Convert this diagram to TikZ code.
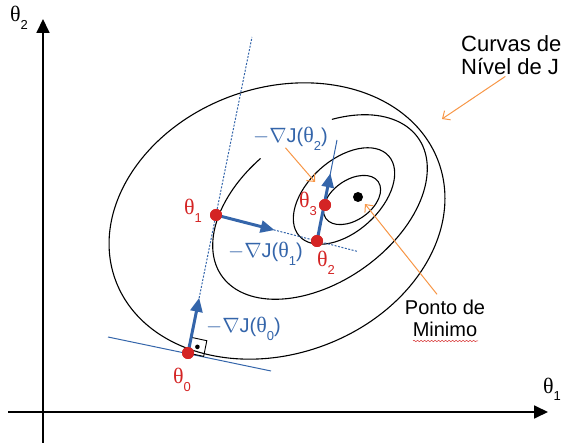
\documentclass[tikz,border=0pt]{standalone}
\usepackage{fontspec}
\setmainfont{Liberation Sans}
\newfontfamily\grkfont{Liberation Serif}
\usepackage{tikz}
\usetikzlibrary{arrows.meta,calc,decorations.pathmorphing}
\definecolor{gdblue}{HTML}{3465AA}
\definecolor{ptred}{HTML}{D42424}
\definecolor{lblorange}{HTML}{F79646}
\newcommand{\tht}[1]{{\grkfont\fontsize{22}{23}\selectfont θ}\raisebox{-0.38em}{\fontsize{13}{13}\selectfont #1}}
\newcommand{\grd}[1]{$-\nabla$J(\tht{#1})}

\begin{document}
\begin{tikzpicture}[x=1pt, y=-1pt, >=Stealth,
  lvl/.style={line width=1.1pt, black},
  axis/.style={line width=1.8pt, -{Triangle[length=14pt,width=13pt]}},
  grad/.style={gdblue, line width=3pt, -{Triangle[length=14pt,width=12pt]}},
  traj/.style={gdblue, line width=1pt, dash pattern=on 2pt off 1.5pt},
  lead/.style={lblorange, line width=1pt, -{Straight Barb[length=6pt,width=11pt]}},
  ptdot/.style={circle, fill=ptred, inner sep=0pt, minimum size=12pt},
  ptlbl/.style={text=ptred, inner sep=0pt, anchor=base west, font=\fontsize{20}{23}\selectfont},
  gdlbl/.style={text=gdblue, inner sep=0pt, anchor=base west, font=\fontsize{20}{23}\selectfont},
  txt/.style={inner sep=0pt, font=\fontsize{20}{22}\selectfont}]
\useasboundingbox (0,0) rectangle (562,443);
% axes
\coordinate (ybot) at (43,443);
\coordinate (ytop) at (43,19);
\coordinate (xleft) at (8,412);
\coordinate (xright) at (548,412);
\draw[axis] (ybot) -- (ytop);
\draw[axis] (xleft) -- (xright);
\node[txt, anchor=base west] (ax2) at (10,22) {\tht{2}};
\node[txt, anchor=base west] (ax1) at (543,393) {\tht{1}};
% level curves of J
\draw[lvl, shift={(277,221)}, rotate=20] (0,0) ellipse [x radius=172, y radius=133];
\draw[lvl, shift={(320,207)}, rotate=35] (-60:120 and 75) arc[start angle=-60, end angle=260, x radius=120, y radius=75];
\draw[lvl, shift={(344,196)}, rotate=42] (0,0) ellipse [x radius=60, y radius=36];
\draw[lvl, shift={(352,200)}, rotate=35] (0,0) ellipse [x radius=32, y radius=20];
% descent points
\node[ptdot] (t0) at (188,353) {};
\node[ptdot] (t1) at (216,215) {};
\node[ptdot] (t2) at (317,241) {};
\node[ptdot] (t3) at (325,205) {};
\node[circle, fill=black, inner sep=0pt, minimum size=10pt] (jmin) at (358,197) {};
% tangent at theta_0 and right angle mark
\coordinate (tanA) at (108,337);
\coordinate (tanB) at (271,371);
\draw[gdblue, line width=1pt] (tanA) -- (tanB);
\coordinate (g0tip) at ($(t0.center)!0.4!(t1.center)$);
\coordinate (sqA) at ($(t0.center)!16pt!(tanB)$);
\coordinate (sqC) at ($(t0.center)!16pt!(g0tip)$);
\draw[line width=0.9pt] (t0.center) -- (sqA) -- ($(sqA)+(sqC)-(t0.center)$) -- (sqC);
\fill ($(sqA)!0.5!(sqC)$) circle (2.3pt);
% gradient steps
\coordinate (g0end) at (252,37);
\coordinate (g1end) at ($(t1.center)!1.4!(t2.center)$);
\coordinate (g2end) at (337,140);
\draw[traj] (t0.center) -- (g0end);
\draw[traj] (t1.center) -- (g1end);
\draw[gdblue, line width=1pt] (t2.center) -- (g2end);
\draw[grad] (t0.center) -- (g0tip);
\draw[grad] (t1.center) -- ($(t1.center)!0.58!(t2.center)$);
\draw[grad] (t2.center) -- ($(t2.center)!0.67!(g2end)$);
\node[ptdot] at (t0) {};
\node[ptdot] at (t1) {};
\node[ptdot] at (t2) {};
\node[ptdot] at (t3) {};
% labels
\node[ptlbl] (lt0) at (173,384) {\tht{0}};
\node[ptlbl] (lt1) at (184,215) {\tht{1}};
\node[ptlbl] (lt2) at (317,267) {\tht{2}};
\node[ptlbl] (lt3) at (299,208) {\tht{3}};
\node[gdlbl] (lg0) at (206,333) {\grd{0}};
\node[gdlbl] (lg1) at (228,258) {\grd{1}};
\node[gdlbl] (lg2) at (253,143) {\grd{2}};
\node[txt, align=left, anchor=base west, font=\fontsize{22}{23}\selectfont] (lcurv) at (461,75) {Curvas de\\Nível de J};
\node[txt, align=center, anchor=base] (lmin) at (445,337) {Ponto de\\Minimo};
% pointers
\coordinate (pcurv) at (442,119);
\coordinate (pg2) at (315,182);
\coordinate (pmin) at (365,204);
\draw[lead] ([xshift=-6pt,yshift=-1pt]lcurv.south) -- (pcurv);
\draw[lead] ([xshift=-5pt,yshift=3pt]lg2.south) -- (pg2);
\draw[lead] ([xshift=-8pt,yshift=6pt]lmin.north) -- (pmin);
\coordinate (wavA) at (413,341);
\coordinate (wavB) at (478,341);
\draw[ptred, line width=0.5pt, decorate, decoration={snake, amplitude=0.7pt, segment length=3.5pt}] (wavA) -- (wavB);
\end{tikzpicture}
\end{document}
